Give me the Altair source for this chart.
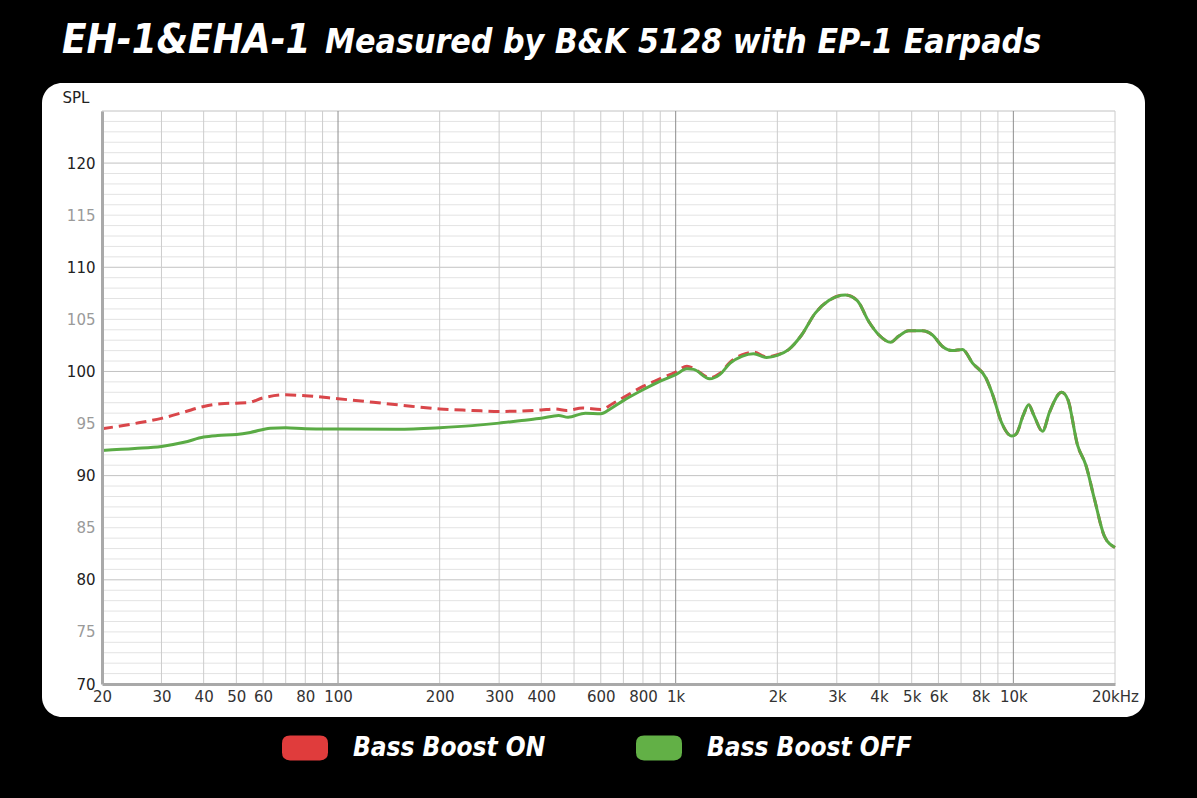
import altair as alt
import pandas as pd

# ---------------- data ----------------
off_freq = [20, 25, 30, 35, 40, 44, 50, 55, 63, 70, 80, 100, 150, 200, 250, 300, 350,
            400, 450, 480, 540, 600, 640, 700, 800, 900, 1000, 1080, 1130, 1260, 1350, 1450,
            1570, 1700, 1860, 2000, 2160, 2360, 2590, 2840, 3180, 3450, 3730, 4000, 4330,
            4580, 4900, 5370, 5760, 6170, 6600, 7070, 7570, 8300, 8700, 9200, 9900, 10200,
            10700, 11100, 11500, 12200, 12800, 13900, 14500, 15500, 16400, 17400, 18600, 20000]
off_spl = [92.42, 92.6, 92.8, 93.2, 93.7, 93.85, 93.95, 94.15, 94.56, 94.6, 94.5, 94.47,
           94.45, 94.6, 94.8, 95.04, 95.3, 95.5, 95.78, 95.6, 96.0, 95.93, 96.4, 97.2, 98.24,
           99.07, 99.7, 100.25, 100.2, 99.3, 99.7, 100.8, 101.45, 101.7, 101.35, 101.55, 102.1,
           103.5, 105.6, 106.8, 107.35, 106.8, 104.8, 103.5, 102.8, 103.4, 103.9, 103.9, 103.5,
           102.4, 102.0, 102.1, 100.8, 99.35, 97.7, 95.2, 93.8, 94.0, 95.8, 96.8, 95.8, 94.25,
           96.1, 98.0, 97.3, 92.9, 91.0, 87.7, 84.2, 83.1]

on_freq = [20, 25, 30, 35, 40, 45, 50, 54, 60, 70, 80, 100, 150, 200, 250, 300, 400, 440,
           475, 530, 600, 650, 700, 800, 900, 1000, 1080, 1130, 1260, 1350, 1450, 1570, 1700,
           1860, 2000, 2160, 2360, 2590, 2840, 3180, 3450, 3730, 4000, 4330, 4580, 4900, 5370,
           5760, 6170, 6600, 7070, 7570, 8300, 8700, 9200, 9900, 10200, 10700, 11100, 11500,
           12200, 12800, 13900, 14500, 15500, 16400, 17400, 18600, 20000]
on_spl = [94.5, 95.0, 95.5, 96.1, 96.64, 96.9, 96.96, 97.0, 97.47, 97.76, 97.67, 97.38,
          96.8, 96.4, 96.26, 96.16, 96.3, 96.4, 96.26, 96.5, 96.35, 96.9, 97.5, 98.56, 99.3,
          99.94, 100.5, 100.3, 99.4, 99.8, 100.9, 101.6, 101.85, 101.4, 101.6, 102.1, 103.5,
          105.6, 106.8, 107.35, 106.8, 104.8, 103.5, 102.8, 103.4, 103.9, 103.9, 103.5, 102.4,
          102.0, 102.1, 100.8, 99.35, 97.7, 95.2, 93.8, 94.0, 95.8, 96.8, 95.8, 94.25, 96.1,
          98.0, 97.3, 92.9, 91.0, 87.7, 84.2, 83.1]

series_names = ["Bass Boost ON", "Bass Boost OFF"]
series_colors = ["#e03c3c", "#62b046"]

title_main = "EH-1&EHA-1"
title_rest = "Measured by B&K 5128 with EP-1 Earpads"

x_tick_values = [20, 30, 40, 50, 60, 80, 100, 200, 300, 400, 600, 800, 1000, 2000, 3000,
                 4000, 5000, 6000, 8000, 10000, 20000]
x_tick_labels = ["20", "30", "40", "50", "60", "80", "100", "200", "300", "400", "600", "800",
                 "1k", "2k", "3k", "4k", "5k", "6k", "8k", "10k", "20kHz"]
y_tick_values = [70, 75, 80, 85, 90, 95, 100, 105, 110, 115, 120]

freq_grid = [20, 30, 40, 50, 60, 70, 80, 90, 100, 200, 300, 400, 500, 600, 700, 800, 900,
             1000, 2000, 3000, 4000, 5000, 6000, 7000, 8000, 9000, 10000, 20000]
db_grid = [71, 72, 73, 74, 75, 76, 77, 78, 79, 80, 81, 82, 83, 84, 85, 86, 87, 88, 89, 90,
           91, 92, 93, 94, 95, 96, 97, 98, 99, 100, 101, 102, 103, 104, 105, 106, 107, 108,
           109, 110, 111, 112, 113, 114, 115, 116, 117, 118, 119, 120, 121, 122, 123, 124, 125]

# ---------------- tables ----------------
df_off = pd.DataFrame({"freq": off_freq, "spl": off_spl})
df_on = pd.DataFrame({"freq": on_freq, "spl": on_spl})
df_fgrid = pd.DataFrame({"freq": freq_grid})
df_dgrid = pd.DataFrame({"spl": db_grid})
df_legend = pd.DataFrame({"series": series_names, "freq": [None, None], "spl": [None, None]})
df_one = pd.DataFrame({"k": [0]})

W, H = 1013, 573
TITLE_FONT = "DejaVu Sans Condensed, Liberation Sans Narrow, sans-serif"
AXIS_FONT = "DejaVu Sans, Verdana, sans-serif"

x_scale = alt.Scale(type="log", domain=[20, 20000], nice=False)
y_scale = alt.Scale(domain=[70, 125], zero=False, nice=False)

label_expr = "{}[indexof({}, datum.value)]".format(
    "[" + ",".join("'" + s + "'" for s in x_tick_labels) + "]",
    "[" + ",".join(str(v) for v in x_tick_values) + "]",
)

x_axis = alt.Axis(values=x_tick_values, labelExpr=label_expr, grid=False, ticks=False,
                  domainColor="#a9a9a9", domainWidth=3, labelFont=AXIS_FONT, labelFontSize=15,
                  labelColor="#333333", labelPadding=5, labelOverlap=False, labelFlush=False,
                  title=None, zindex=1)
y_axis = alt.Axis(values=y_tick_values, grid=False, ticks=False, domainColor="#a9a9a9",
                  domainWidth=3, labelFont=AXIS_FONT, labelFontSize=15,
                  labelColor={"condition": {"test": "datum.value % 10 == 0", "value": "#222222"},
                              "value": "#9a9a9a"},
                  labelPadding=7, title="SPL", titleAngle=0, titleX=-40, titleY=-14,
                  titleAlign="left", titleBaseline="middle", titleFont=AXIS_FONT,
                  titleFontSize=15, titleFontWeight="normal", titleColor="#222222", zindex=1)

X = alt.X("freq:Q", scale=x_scale, axis=x_axis)
Y = alt.Y("spl:Q", scale=y_scale, axis=y_axis)

panel = alt.Chart(df_one).mark_rect(color="white", cornerRadius=20).encode(
    x=alt.value(-60), x2=alt.value(1043), y=alt.value(-28), y2=alt.value(606)
)

title1 = alt.Chart(df_one).mark_text(
    text=title_main, font=TITLE_FONT, fontSize=40, fontStyle="italic", fontWeight="bold",
    color="white", align="left", baseline="alphabetic"
).encode(x=alt.value(-40), y=alt.value(-58))
title2 = alt.Chart(df_one).mark_text(
    text=title_rest, font=TITLE_FONT, fontSize=33.6, fontStyle="italic", fontWeight="bold",
    color="white", align="left", baseline="alphabetic"
).encode(x=alt.value(223), y=alt.value(-58))

hgrid = alt.Chart(df_dgrid).mark_rule(strokeWidth=1).encode(
    y=Y,
    color=alt.condition("datum.spl % 10 == 0 || datum.spl == 125", alt.value("#c2c2c2"),
                        alt.value("#e3e3e3")),
)
vgrid = alt.Chart(df_fgrid).mark_rule(strokeWidth=1).encode(
    x=X,
    color=alt.condition("datum.freq == 100 || datum.freq == 1000 || datum.freq == 10000",
                        alt.value("#8e8e8e"), alt.value("#cccccc")),
)

line_on = alt.Chart(df_on).mark_line(color="#d9464a", strokeWidth=3, strokeDash=[11, 6],
                                     interpolate="monotone").encode(x=X, y=Y)
line_off = alt.Chart(df_off).mark_line(color="#5aab45", strokeWidth=3,
                                       interpolate="monotone").encode(x=X, y=Y)

rr = ("M -0.65,-0.54 L 0.65,-0.54 Q 1,-0.54 1,-0.2 L 1,0.2 Q 1,0.54 0.65,0.54 "
      "L -0.65,0.54 Q -1,0.54 -1,0.2 L -1,-0.2 Q -1,-0.54 -0.65,-0.54 Z")
legend_layer = alt.Chart(df_legend).mark_square(filled=True, opacity=1).encode(
    x=X, y=Y,
    fill=alt.Fill("series:N", scale=alt.Scale(domain=series_names, range=series_colors),
                  legend=alt.Legend(title=None, orient="none", legendX=180, legendY=614,
                                    direction="horizontal", symbolType=rr, symbolSize=2116,
                                    symbolStrokeWidth=0, symbolOpacity=1, labelFont=TITLE_FONT,
                                    labelFontSize=26, labelFontStyle="italic",
                                    labelFontWeight="bold", labelColor="white",
                                    labelOffset=25, columnPadding=90, labelLimit=400)),
)

chart = alt.layer(panel, title1, title2, hgrid, vgrid, line_on, line_off,
                  legend_layer).properties(
    width=W, height=H,
    background="black",
    padding={"left": 102, "top": 111, "right": 82, "bottom": 114},
    autosize=alt.AutoSizeParams(type="none"),
).configure_view(stroke=None)

chart.save("out.html", embed_options={"renderer": "svg", "actions": False})
